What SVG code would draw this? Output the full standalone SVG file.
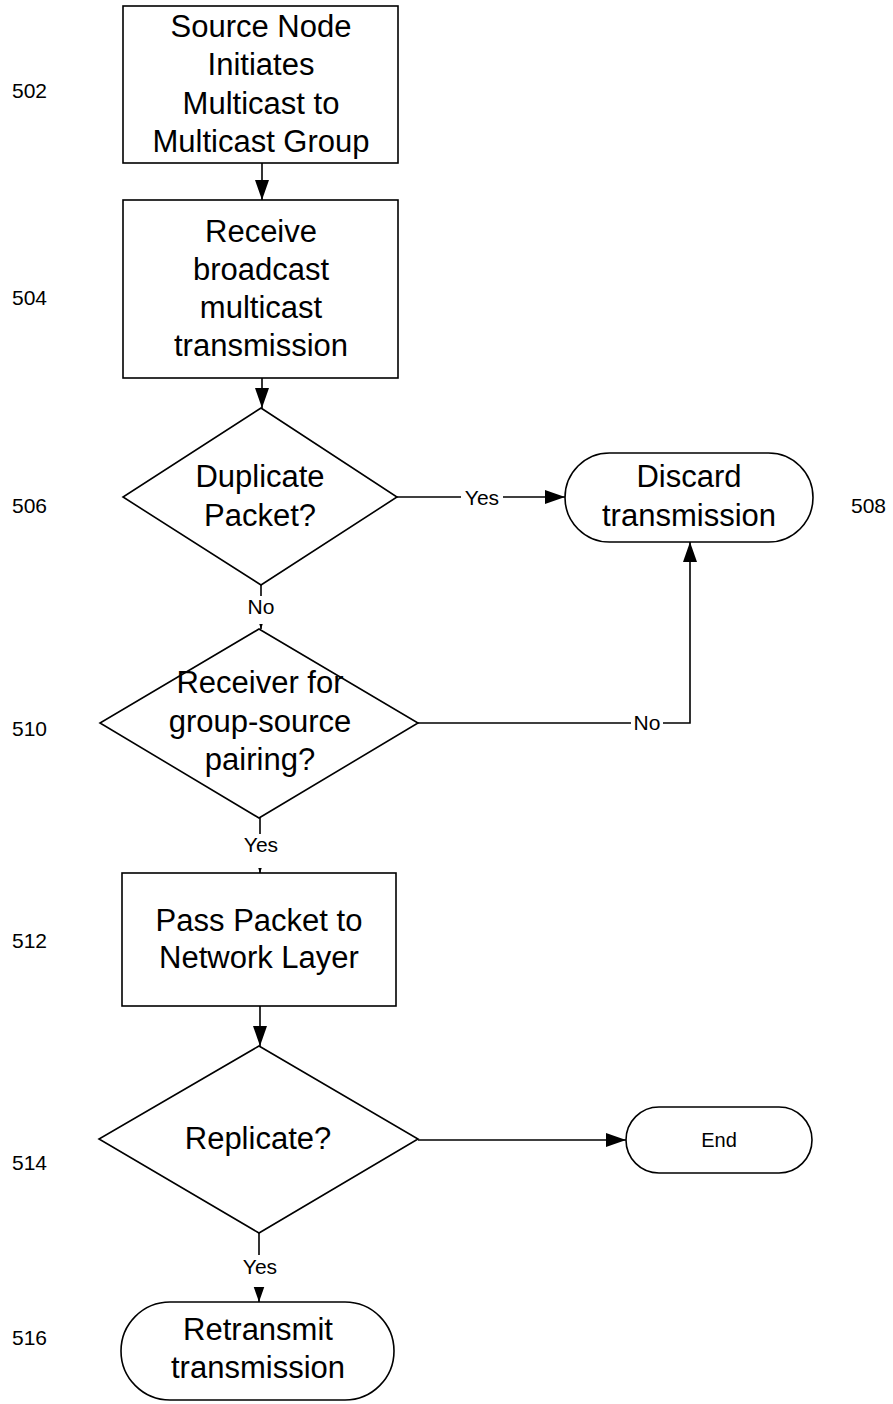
<svg xmlns="http://www.w3.org/2000/svg" width="893" height="1404" viewBox="0 0 893 1404">
<defs>
<marker id="ah" viewBox="0 0 20 14" refX="20" refY="7" markerWidth="20" markerHeight="14" markerUnits="userSpaceOnUse" orient="auto">
<path d="M0,0 L20,7 L0,14 Z" fill="#000"/>
</marker>
</defs>
<style>
.shape{fill:#fff;stroke:#000;stroke-width:1.6}
.t{font-family:"Liberation Sans",Arial,sans-serif;font-size:31px;text-anchor:middle;fill:#000}
.s{font-family:"Liberation Sans",Arial,sans-serif;font-size:21px;text-anchor:middle;fill:#000}
.e{font-family:"Liberation Sans",Arial,sans-serif;font-size:20px;text-anchor:middle;fill:#000}
.n{font-family:"Liberation Sans",Arial,sans-serif;font-size:21px;fill:#000}
.c{fill:none;stroke:#000;stroke-width:1.6}
.bg{fill:#fff}
</style>
<rect width="893" height="1404" fill="#fff"/>
<g id="connectors">
<line class="c" x1="262" y1="163" x2="262" y2="200" marker-end="url(#ah)"/>
<line class="c" x1="262" y1="378" x2="262" y2="408" marker-end="url(#ah)"/>
<line class="c" x1="397" y1="497" x2="565" y2="497" marker-end="url(#ah)"/>
<line class="c" x1="261" y1="585" x2="261" y2="629" marker-end="url(#ah)"/>
<polyline class="c" points="418,723 690,723 690,542" marker-end="url(#ah)"/>
<line class="c" x1="260" y1="818" x2="260" y2="873" marker-end="url(#ah)"/>
<line class="c" x1="260" y1="1006" x2="260" y2="1046" marker-end="url(#ah)"/>
<line class="c" x1="418" y1="1140" x2="626" y2="1140" marker-end="url(#ah)"/>
<line class="c" x1="259" y1="1233" x2="259" y2="1302" marker-end="url(#ah)"/>
<rect class="bg" x="461" y="486" width="42" height="24"/>
<text class="s" x="482" y="505">Yes</text>
<rect class="bg" x="246" y="596" width="30" height="28"/>
<text class="s" x="261" y="614">No</text>
<rect class="bg" x="239" y="834" width="42" height="34"/>
<text class="s" x="261" y="852">Yes</text>
<rect class="bg" x="631" y="712" width="32" height="24"/>
<text class="s" x="647" y="730">No</text>
<rect class="bg" x="238" y="1255" width="42" height="32"/>
<text class="s" x="260" y="1274">Yes</text>
</g>
<g id="n502">
<rect class="shape" x="123" y="6" width="275" height="157"/>
<text class="t" x="261" y="37">Source Node</text>
<text class="t" x="261" y="75">Initiates</text>
<text class="t" x="261" y="114">Multicast to</text>
<text class="t" x="261" y="152">Multicast Group</text>
<text class="n" x="12" y="98">502</text>
</g>
<g id="n504">
<rect class="shape" x="123" y="200" width="275" height="178"/>
<text class="t" x="261" y="242">Receive</text>
<text class="t" x="261" y="280">broadcast</text>
<text class="t" x="261" y="318">multicast</text>
<text class="t" x="261" y="356">transmission</text>
<text class="n" x="12" y="305">504</text>
</g>
<g id="n506">
<polygon class="shape" points="261,408 397,497 261,585 123,497"/>
<text class="t" x="260" y="487">Duplicate</text>
<text class="t" x="260" y="526">Packet?</text>
<text class="n" x="12" y="513">506</text>
</g>
<g id="n508">
<rect class="shape" x="565" y="453" width="248" height="89" rx="44.5" ry="44.5"/>
<text class="t" x="689" y="487">Discard</text>
<text class="t" x="689" y="526">transmission</text>
<text class="n" x="851" y="513">508</text>
</g>
<g id="n510">
<polygon class="shape" points="259,629 418,723 259,818 100,723"/>
<text class="t" x="260" y="693">Receiver for</text>
<text class="t" x="260" y="732">group-source</text>
<text class="t" x="260" y="770">pairing?</text>
<text class="n" x="12" y="736">510</text>
</g>
<g id="n512">
<rect class="shape" x="122" y="873" width="274" height="133"/>
<text class="t" x="259" y="931">Pass Packet to</text>
<text class="t" x="259" y="968">Network Layer</text>
<text class="n" x="12" y="948">512</text>
</g>
<g id="n514">
<polygon class="shape" points="259,1046 418,1139 259,1233 99,1139"/>
<text class="t" x="258" y="1149">Replicate?</text>
<text class="n" x="12" y="1170">514</text>
</g>
<g id="nEnd">
<rect class="shape" x="626" y="1107" width="186" height="66" rx="33" ry="33"/>
<text class="e" x="719" y="1147">End</text>
</g>
<g id="n516">
<rect class="shape" x="121" y="1302" width="273" height="98" rx="49" ry="49"/>
<text class="t" x="258" y="1340">Retransmit</text>
<text class="t" x="258" y="1378">transmission</text>
<text class="n" x="12" y="1345">516</text>
</g>
</svg>
